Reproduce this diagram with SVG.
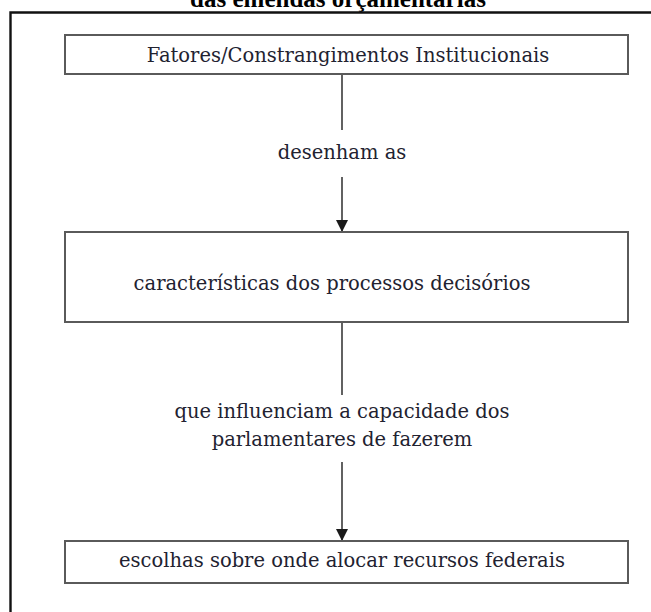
<svg xmlns="http://www.w3.org/2000/svg" width="651" height="612" viewBox="0 0 651 612">
<defs>
<style>
.box{fill:#fff;stroke:#5a5a5a;stroke-width:2}
.t{font-family:"DejaVu Serif","Liberation Serif",serif;font-size:19.5px;fill:#222230;text-anchor:middle}
.ln{stroke:#3a3a3a;stroke-width:1.6;fill:none}
</style>
<marker id="ah" viewBox="0 0 10 10" refX="10" refY="5" markerWidth="12" markerHeight="12" markerUnits="userSpaceOnUse" orient="auto">
<path d="M0,0 L10,5 L0,10 z" fill="#1a1a1a"/>
</marker>
</defs>
<rect width="651" height="612" fill="#fff"/>
<text x="338" y="7" font-family="Liberation Serif,serif" font-weight="bold" font-size="25" text-anchor="middle" fill="#000">das emendas orçamentárias</text>
<path d="M10.5,612 V12.5 H651" stroke="#111" stroke-width="2.4" fill="none"/>
<g id="connectors">
<path class="ln" d="M342,74 V130"/>
<path class="ln" d="M342,177 V232" marker-end="url(#ah)"/>
<path class="ln" d="M342,322 V395"/>
<path class="ln" d="M342,462 V541" marker-end="url(#ah)"/>
</g>
<g id="n1">
<rect class="box" x="65" y="35" width="563" height="39"/>
<text class="t" x="348" y="62">Fatores/Constrangimentos Institucionais</text>
</g>
<g id="l1"><text class="t" x="342" y="159">desenham as</text></g>
<g id="n2">
<rect class="box" x="65" y="232" width="563" height="90"/>
<text class="t" x="332" y="290">características dos processos decisórios</text>
</g>
<g id="l2">
<text class="t" x="342" y="418">que influenciam a capacidade dos</text>
<text class="t" x="342" y="446">parlamentares de fazerem</text>
</g>
<g id="n3">
<rect class="box" x="65" y="541" width="563" height="42"/>
<text class="t" x="342" y="567">escolhas sobre onde alocar recursos federais</text>
</g>
</svg>
